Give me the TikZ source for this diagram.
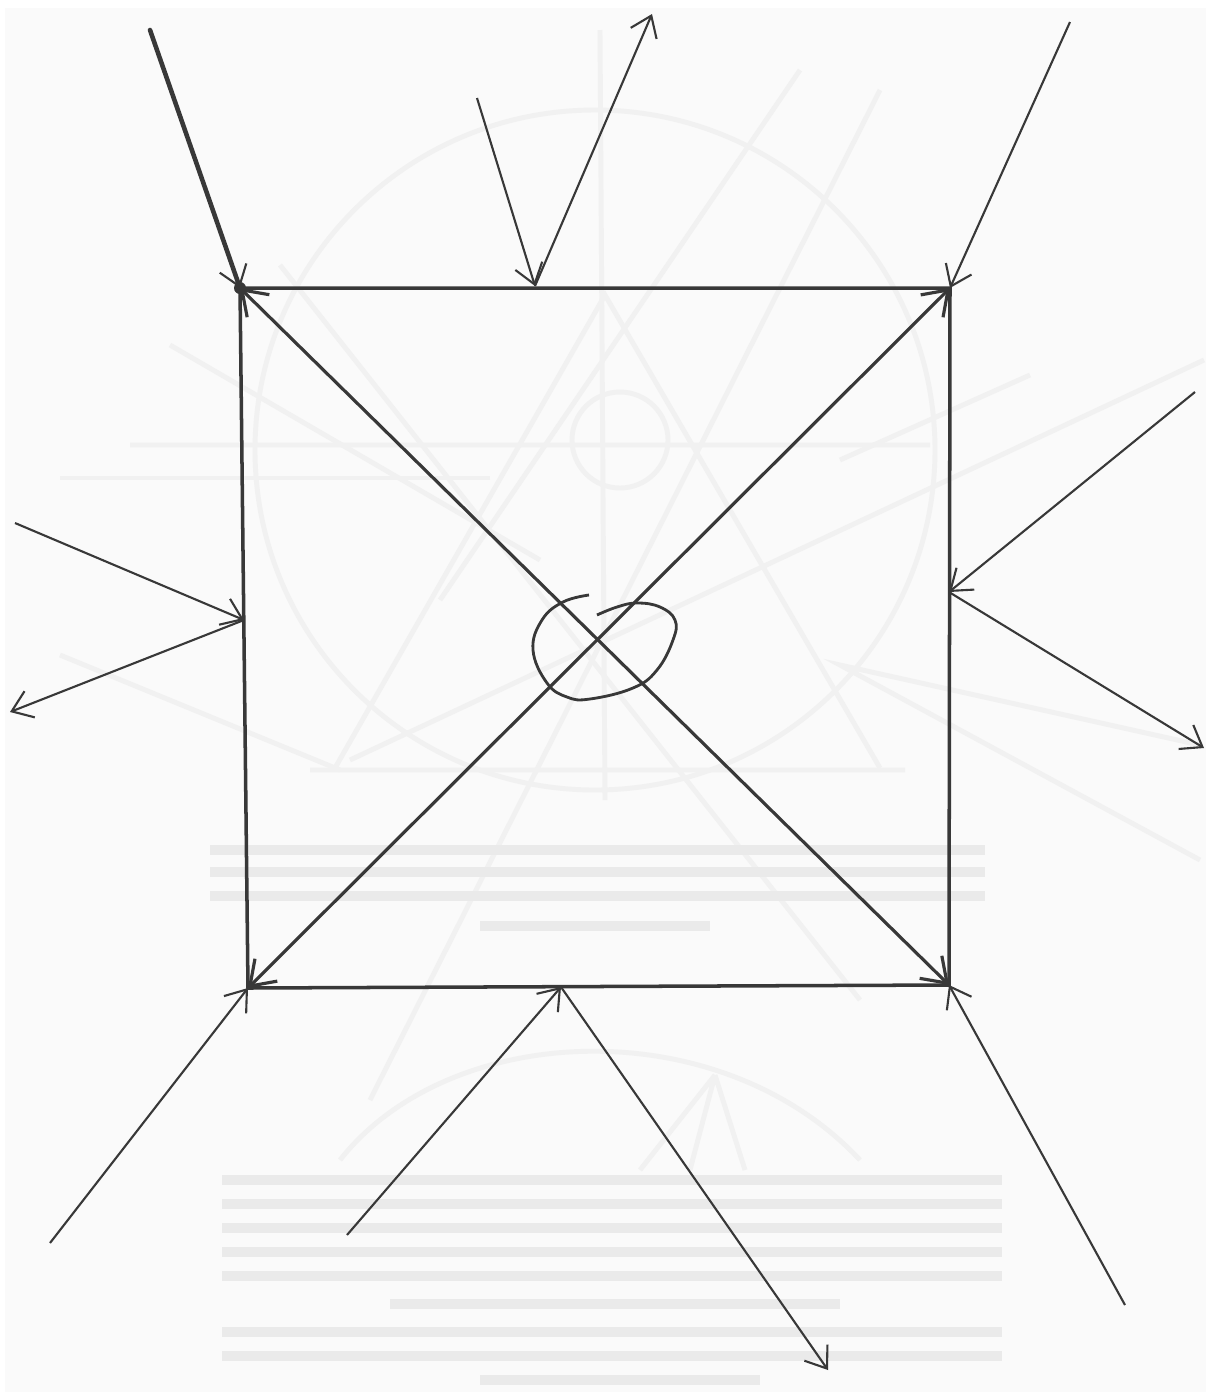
\documentclass[tikz,border=0pt]{standalone}
\usetikzlibrary{arrows.meta}
\definecolor{paper}{HTML}{FAFAFA}
\definecolor{pencil}{HTML}{383838}
\definecolor{ghost}{HTML}{F1F1F1}
\definecolor{ghosttext}{HTML}{EAEAEA}
\tikzset{
ray/.style={pencil,line width=0.6pt,-{Straight Barb[length=5.5pt,width=8pt]}},
side/.style={pencil,line width=1pt},
diag/.style={pencil,line width=0.9pt,{Straight Barb[length=6.5pt,width=9pt]}-{Straight Barb[length=6.5pt,width=9pt]}},
backline/.style={ghost,line width=1.4pt},
backtext/.style={ghosttext,line width=2.8pt}
}
\begin{document}
\begin{tikzpicture}[x=0.1mm,y=-0.1mm]
\useasboundingbox (0,0) rectangle (1206,1392);
\fill[white] (0,0) rectangle (1206,1392);
\fill[paper] (5,8) rectangle (1206,1392);
\path
(240,288) coordinate (A)
(950,288) coordinate (B)
(248,988) coordinate (C)
(949,985) coordinate (D)
(535,286) coordinate (T)
(949,592) coordinate (R)
(561,987) coordinate (U)
(244,620) coordinate (L)
(150,30) coordinate (A1)
(477,98) coordinate (T1)
(652,14) coordinate (T2)
(1070,22) coordinate (B1)
(1195,392) coordinate (R1)
(1204,748) coordinate (R2)
(1125,1305) coordinate (D1)
(347,1235) coordinate (U1)
(828,1370) coordinate (U2)
(50,1243) coordinate (C1)
(15,523) coordinate (L1)
(10,712) coordinate (L2)
;
% bleed from the other side of the sheet
\draw[backline] (595,450) circle(340) (620,440) circle(48);
\draw[backline] (600,30)--(605,800) (130,445)--(930,445) (310,770)--(905,770);
\draw[backline] (335,768)--(605,295)--(880,768) (280,265)--(860,1000) (540,560)--(170,345);
\draw[backline] (880,90)--(370,1100) (800,70)--(440,600) (60,655)--(340,770);
\draw[backline] (1200,860)--(840,665)--(1200,745) (1204,360)--(350,760) (840,460)--(1030,375);
\draw[backline] (490,478)--(60,478);
\draw[backline] (340,1160) .. controls (450,1020) and (720,1010) .. (860,1160);
\draw[backline] (715,1075)--(640,1170) (715,1075)--(690,1170) (715,1075)--(745,1170);
\foreach \y/\a/\b in {850/210/985, 872/210/985, 896/210/985, 926/480/710, 1180/222/1002, 1204/222/1002, 1228/222/1002, 1252/222/1002, 1276/222/1002, 1304/390/840, 1332/222/1002, 1356/222/1002, 1380/480/760}
\draw[backtext] (\a,\y)--(\b,\y);
% square
\draw[side] (A)--(B)--(D)--(C)--cycle;
\draw[diag] (A)--(D);
\draw[diag] (C)--(B);
% rays
\draw[pencil,line width=1.3pt,line cap=round] (A1)--(A);
\fill[pencil] (A) circle(6);
\foreach \p/\q in {A1/A, T1/T, T/T2, B1/B, R1/R, R/R2, D1/D, U1/U, U/U2, C1/C, L1/L, L/L2}
\draw[ray] (\p)--(\q);
% spiral
\draw[pencil,line width=0.8pt] plot[smooth,tension=0.7] coordinates {(589,595) (563,602) (542,620) (533,650) (547,683) (567,697) (590,699) (633,688) (657,670) (673,640) (675,620) (660,607) (637,603) (617,607) (597,615)};
\end{tikzpicture}
\end{document}
